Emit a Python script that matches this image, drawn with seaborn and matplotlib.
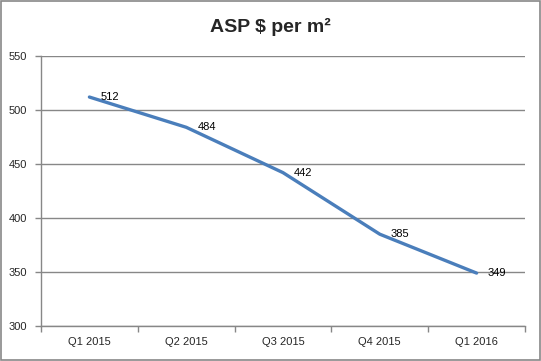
import matplotlib
matplotlib.use("Agg")
import matplotlib.pyplot as plt
import seaborn as sns
import pandas as pd
from matplotlib.patches import Rectangle

quarters = ["Q1 2015", "Q2 2015", "Q3 2015", "Q4 2015", "Q1 2016"]
asp = [512, 484, 442, 385, 349]

df = pd.DataFrame({"quarter": quarters, "asp": asp})

sns.set_style("white")
plt.rcParams["font.family"] = ["Liberation Sans", "DejaVu Sans"]

fig = plt.figure(figsize=(5.41, 3.61), dpi=100)
ax = fig.add_axes([41 / 541, 1 - 326 / 361, 484 / 541, 270 / 361])

sns.lineplot(data=df, x="quarter", y="asp", ax=ax, color="#4A7EBB", linewidth=2.4, sort=False)

for i, v in enumerate(asp):
    ax.annotate(str(v), (i, v), xytext=(8, 0), textcoords="offset points",
                ha="left", va="center", fontsize=8, color="black")

ax.set_xlim(-0.5, 4.5)
ax.set_ylim(300, 550)
ax.set_yticks(range(300, 551, 50))
ax.yaxis.grid(True, color="#878787", linewidth=1)
ax.set_axisbelow(True)
ax.set_xlabel("")
ax.set_ylabel("")

ax.set_xticks(range(len(quarters)))
ax.set_xticklabels(quarters)
ax.set_xticks([i - 0.5 for i in range(len(quarters) + 1)], minor=True)
ax.tick_params(axis="x", which="major", length=0, pad=8, labelsize=8)
ax.tick_params(axis="x", which="minor", length=4, width=1, color="#878787", direction="out")
ax.tick_params(axis="y", length=4, width=1, color="#878787", direction="out", labelsize=8, pad=6)
ax.tick_params(bottom=True, left=True, which="both")

for side in ["top", "right"]:
    ax.spines[side].set_visible(False)
for side in ["left", "bottom"]:
    ax.spines[side].set_color("#878787")
    ax.spines[side].set_linewidth(1)

fig.text(0.5, 1 - 27 / 361, "ASP $ per m²", ha="center", va="center",
         fontsize=14, fontweight="bold")

fig.patches.append(Rectangle((0.001, 0.002), 0.997, 0.995, transform=fig.transFigure,
                             fill=False, edgecolor="#878787", linewidth=1.2))

fig.savefig("out.png", dpi=100)
